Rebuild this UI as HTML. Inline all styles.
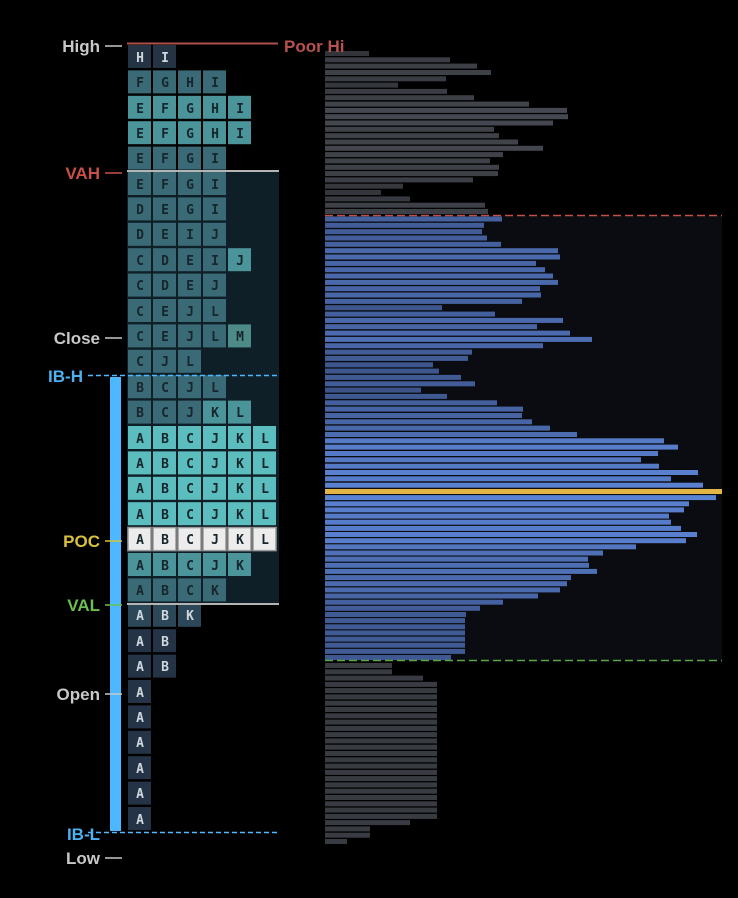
<!DOCTYPE html>
<html><head><meta charset="utf-8"><style>
html,body{margin:0;padding:0;background:#000;width:738px;height:898px;overflow:hidden}
svg{display:block}
.l{font-family:"Liberation Sans","DejaVu Sans",sans-serif;font-size:17px;font-weight:bold;text-anchor:end}
.t{font-family:"DejaVu Sans Mono","Liberation Mono",monospace;font-size:13px;font-weight:bold;text-anchor:middle}
</style></head><body>
<svg id="s" width="738" height="898" viewBox="0 0 738 898" xmlns="http://www.w3.org/2000/svg">
<rect width="738" height="898" fill="#000"/>
<rect x="325" y="216" width="397" height="444" fill="#0a0c11"/>
<g id="bars"></g>
<line x1="325" y1="215.5" x2="722" y2="215.5" stroke="#c0504a" stroke-width="1.5" stroke-dasharray="8,4"/>
<line x1="325" y1="660.5" x2="722" y2="660.5" stroke="#5aa845" stroke-width="1.5" stroke-dasharray="8,4"/>
<rect x="127" y="171" width="152" height="433" fill="#0f1f28"/>
<g id="cells"></g>
<line x1="127" y1="171" x2="279" y2="171" stroke="#b4b4b4" stroke-width="2"/>
<line x1="127" y1="604" x2="279" y2="604" stroke="#b4b4b4" stroke-width="2"/>
<line x1="127" y1="43.5" x2="278" y2="43.5" stroke="#b0504a" stroke-width="2"/>
<text x="284" y="52" class="l" style="text-anchor:start;fill:#b8524c">Poor Hi</text>
<rect x="110" y="377" width="11" height="454" fill="#4db8ff"/>
<line x1="88" y1="375.5" x2="279" y2="375.5" stroke="#4db8ff" stroke-width="1.5" stroke-dasharray="5,3"/>
<line x1="88" y1="832.5" x2="279" y2="832.5" stroke="#4db8ff" stroke-width="1.5" stroke-dasharray="5,3"/>
<text x="100" y="52" class="l" fill="#c8c8c8">High</text><line x1="105" y1="46" x2="122" y2="46" stroke="#c8c8c8" stroke-width="1.5"/>
<text x="100" y="179" class="l" fill="#c9504a">VAH</text><line x1="105" y1="173" x2="122" y2="173" stroke="#c9504a" stroke-width="1.5"/>
<text x="100" y="344" class="l" fill="#c8c8c8">Close</text><line x1="105" y1="338" x2="122" y2="338" stroke="#c8c8c8" stroke-width="1.5"/>
<text x="83" y="382" class="l" fill="#4db0f0">IB-H</text>
<text x="100" y="547" class="l" fill="#d9c040">POC</text><line x1="105" y1="541" x2="122" y2="541" stroke="#d9c040" stroke-width="1.5"/>
<text x="100" y="611" class="l" fill="#6abf50">VAL</text><line x1="105" y1="605" x2="122" y2="605" stroke="#6abf50" stroke-width="1.5"/>
<text x="100" y="700" class="l" fill="#c8c8c8">Open</text><line x1="105" y1="694" x2="122" y2="694" stroke="#c8c8c8" stroke-width="1.5"/>
<text x="100" y="840" class="l" fill="#4db0f0">IB-L</text>
<text x="100" y="864" class="l" fill="#c8c8c8">Low</text><line x1="105" y1="858" x2="122" y2="858" stroke="#c8c8c8" stroke-width="1.5"/>
<g id="txt">
<text class="t" x="140" y="62" fill="#cfd6dd">H</text><text class="t" x="165" y="62" fill="#cfd6dd">I</text>
<text class="t" x="140" y="87">F</text><text class="t" x="165" y="87">G</text><text class="t" x="190" y="87">H</text><text class="t" x="215" y="87">I</text>
<text class="t" x="140" y="113">E</text><text class="t" x="165" y="113">F</text><text class="t" x="190" y="113">G</text><text class="t" x="215" y="113">H</text><text class="t" x="240" y="113">I</text>
<text class="t" x="140" y="138">E</text><text class="t" x="165" y="138">F</text><text class="t" x="190" y="138">G</text><text class="t" x="215" y="138">H</text><text class="t" x="240" y="138">I</text>
<text class="t" x="140" y="163">E</text><text class="t" x="165" y="163">F</text><text class="t" x="190" y="163">G</text><text class="t" x="215" y="163">I</text>
<text class="t" x="140" y="189">E</text><text class="t" x="165" y="189">F</text><text class="t" x="190" y="189">G</text><text class="t" x="215" y="189">I</text>
<text class="t" x="140" y="214">D</text><text class="t" x="165" y="214">E</text><text class="t" x="190" y="214">G</text><text class="t" x="215" y="214">I</text>
<text class="t" x="140" y="239">D</text><text class="t" x="165" y="239">E</text><text class="t" x="190" y="239">I</text><text class="t" x="215" y="239">J</text>
<text class="t" x="140" y="265">C</text><text class="t" x="165" y="265">D</text><text class="t" x="190" y="265">E</text><text class="t" x="215" y="265">I</text><text class="t" x="240" y="265">J</text>
<text class="t" x="140" y="290">C</text><text class="t" x="165" y="290">D</text><text class="t" x="190" y="290">E</text><text class="t" x="215" y="290">J</text>
<text class="t" x="140" y="316">C</text><text class="t" x="165" y="316">E</text><text class="t" x="190" y="316">J</text><text class="t" x="215" y="316">L</text>
<text class="t" x="140" y="341">C</text><text class="t" x="165" y="341">E</text><text class="t" x="190" y="341">J</text><text class="t" x="215" y="341">L</text><text class="t" x="240" y="341">M</text>
<text class="t" x="140" y="366">C</text><text class="t" x="165" y="366">J</text><text class="t" x="190" y="366">L</text>
<text class="t" x="140" y="392">B</text><text class="t" x="165" y="392">C</text><text class="t" x="190" y="392">J</text><text class="t" x="215" y="392">L</text>
<text class="t" x="140" y="417">B</text><text class="t" x="165" y="417">C</text><text class="t" x="190" y="417">J</text><text class="t" x="215" y="417">K</text><text class="t" x="240" y="417">L</text>
<text class="t" x="140" y="443">A</text><text class="t" x="165" y="443">B</text><text class="t" x="190" y="443">C</text><text class="t" x="215" y="443">J</text><text class="t" x="240" y="443">K</text><text class="t" x="265" y="443">L</text>
<text class="t" x="140" y="468">A</text><text class="t" x="165" y="468">B</text><text class="t" x="190" y="468">C</text><text class="t" x="215" y="468">J</text><text class="t" x="240" y="468">K</text><text class="t" x="265" y="468">L</text>
<text class="t" x="140" y="493">A</text><text class="t" x="165" y="493">B</text><text class="t" x="190" y="493">C</text><text class="t" x="215" y="493">J</text><text class="t" x="240" y="493">K</text><text class="t" x="265" y="493">L</text>
<text class="t" x="140" y="519">A</text><text class="t" x="165" y="519">B</text><text class="t" x="190" y="519">C</text><text class="t" x="215" y="519">J</text><text class="t" x="240" y="519">K</text><text class="t" x="265" y="519">L</text>
<text class="t" x="140" y="544">A</text><text class="t" x="165" y="544">B</text><text class="t" x="190" y="544">C</text><text class="t" x="215" y="544">J</text><text class="t" x="240" y="544">K</text><text class="t" x="265" y="544">L</text>
<text class="t" x="140" y="570">A</text><text class="t" x="165" y="570">B</text><text class="t" x="190" y="570">C</text><text class="t" x="215" y="570">J</text><text class="t" x="240" y="570">K</text>
<text class="t" x="140" y="595">A</text><text class="t" x="165" y="595">B</text><text class="t" x="190" y="595">C</text><text class="t" x="215" y="595">K</text>
<text class="t" x="140" y="620" fill="#cfd6dd">A</text><text class="t" x="165" y="620" fill="#cfd6dd">B</text><text class="t" x="190" y="620" fill="#cfd6dd">K</text>
<text class="t" x="140" y="646" fill="#cfd6dd">A</text><text class="t" x="165" y="646" fill="#cfd6dd">B</text>
<text class="t" x="140" y="671" fill="#cfd6dd">A</text><text class="t" x="165" y="671" fill="#cfd6dd">B</text>
<text class="t" x="140" y="697" fill="#cfd6dd">A</text>
<text class="t" x="140" y="722" fill="#cfd6dd">A</text>
<text class="t" x="140" y="747" fill="#cfd6dd">A</text>
<text class="t" x="140" y="773" fill="#cfd6dd">A</text>
<text class="t" x="140" y="798" fill="#cfd6dd">A</text>
<text class="t" x="140" y="824" fill="#cfd6dd">A</text>
</g>
</svg>
<script>
(function(){
var NS="http://www.w3.org/2000/svg";
function mk(t,a,p){var e=document.createElementNS(NS,t);for(var k in a)e.setAttribute(k,a[k]);p.appendChild(e);return e;}
var topB=[369,450,477,491,446,398,447,474,529,567,568,553,494,499,518,543,503,490,499,498,473,403,381,410,485,488];
var blue=[502,484,482,487,501,558,560,536,545,553,558,540,541,522,442,495,563,537,570,592,543,472,468,433,439,461,475,421,447,497,523,522,532,550,577,664,678,658,641,659,698,671,703,722,716,689,684,669,671,681,697,686,636,603,588,589,597,571,567,560,538,503,480,466,465,465,465,465,465,465,451];
var bot=[392,392,423];for(var i=0;i<22;i++)bot.push(437);bot=bot.concat([410,370,370,347]);
var bars=document.getElementById('bars');
function col(w,kind){var f;
 if(kind==0){f=(w-40)/250;return "rgb("+Math.round(50+f*24)+","+Math.round(52+f*25)+","+Math.round(58+f*28)+")";}
 if(kind==1){f=Math.min(1,(w-100)/300);return "rgb("+Math.round(60+f*32)+","+Math.round(84+f*48)+","+Math.round(138+f*75)+")";}
 return "#383b42";}
for(var i=0;i<topB.length;i++){mk('rect',{x:325,y:(51+i*6.32).toFixed(1),width:topB[i]-325,height:5,fill:col(topB[i]-325,0)},bars);}
var nb=blue.length,g=43;
for(var j=0;j<nb;j++){
 var y=j<=g?216.5+j*(489-216.5)/g:489+(j-g)*(655-489)/(nb-1-g);
 mk('rect',{x:325,y:y.toFixed(1),width:blue[j]-325,height:5,fill:j==g?"#e3b544":col(blue[j]-325,1)},bars);}
for(var k=0;k<bot.length;k++){mk('rect',{x:325,y:(663+k*(839-663)/(bot.length-1)).toFixed(1),width:bot[k]-325,height:5,fill:col(0,2)},bars);}
var rows=["HI","FGHI","EFGHI","EFGHI","EFGI","EFGI","DEGI","DEIJ","CDEIJ","CDEJ","CEJL","CEJLM","CJL","BCJL","BCJKL","ABCJKL","ABCJKL","ABCJKL","ABCJKL","ABCJKL","ABCJK","ABCK","ABK","AB","AB","A","A","A","A","A","A"];
var cells=document.getElementById('cells');
for(var r=0;r<rows.length;r++){
 var n=rows[r].length,y=45+r*25.4,c;
 if(r==0)c="#253445";else if(r>=22)c=(r==22?"#2c4858":"#243446");
 else if(r>=15&&r<=18)c="#5bbdbe";else if(r==19)c="#ececec";else if(r==2||r==3||r==20)c="#4a949a";else c="#3a6a76";
 for(var j=0;j<n;j++){var cc=c;
  if((r==14&&j>=3)||(r==8&&j==4))cc="#4a949a";
  if(r==11&&j==4)cc="#4e8a88";
  var a={x:128+j*25,y:y.toFixed(1),width:23,height:23,fill:cc};
  if(r==19){a.stroke="#9a9a9a";a["stroke-width"]=1.5;}
  mk('rect',a,cells);}
}
var ts=document.querySelectorAll('#txt text');for(var q=0;q<ts.length;q++)if(!ts[q].getAttribute('fill'))ts[q].setAttribute('fill','#16262c');
})();
</script>
</body></html>
